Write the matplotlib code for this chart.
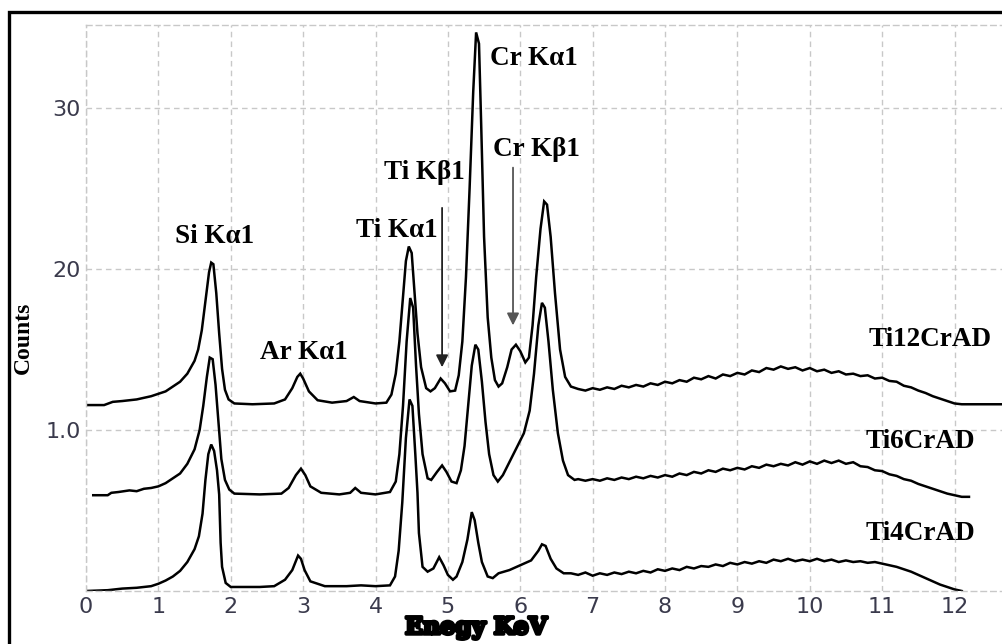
import matplotlib
matplotlib.use("Agg")
import matplotlib.pyplot as plt
from matplotlib.lines import Line2D
import matplotlib.patheffects as pe

# ---------------- data ----------------
ti12_energy = [0.0, 0.25, 0.37, 0.5, 0.6, 0.7, 0.8, 0.9, 1.0, 1.1, 1.2, 1.3, 1.4, 1.5, 1.55, 1.6, 1.65, 1.7, 1.73,
               1.76, 1.8, 1.84, 1.88, 1.92, 1.97, 2.05, 2.3, 2.6, 2.75, 2.85, 2.92, 2.96, 3.0, 3.08, 3.2, 3.4,
               3.6, 3.7, 3.78, 4.0, 4.15, 4.22, 4.28, 4.33, 4.38, 4.42, 4.46, 4.5, 4.54, 4.58, 4.63, 4.7, 4.76,
               4.82, 4.9, 4.96, 5.03, 5.1, 5.15, 5.2, 5.25, 5.3, 5.35, 5.39, 5.43, 5.46, 5.5, 5.55, 5.6, 5.65,
               5.7, 5.75, 5.82, 5.88, 5.94, 6.0, 6.07, 6.12, 6.17, 6.22, 6.28, 6.33, 6.37, 6.42, 6.48, 6.55,
               6.62, 6.7, 6.8, 6.9, 7.0, 7.1, 7.2, 7.3, 7.4, 7.5, 7.6, 7.7, 7.8, 7.9, 8.0, 8.1, 8.2, 8.3, 8.4,
               8.5, 8.6, 8.7, 8.8, 8.9, 9.0, 9.1, 9.2, 9.3, 9.4, 9.5, 9.6, 9.7, 9.8, 9.9, 10.0, 10.1, 10.2,
               10.3, 10.4, 10.5, 10.6, 10.7, 10.8, 10.9, 11.0, 11.1, 11.2, 11.3, 11.4, 11.5, 11.6, 11.7, 11.8,
               11.9, 12.0, 12.1, 12.67]
ti12_counts = [11.55, 11.55, 11.75, 11.8, 11.85, 11.9, 12.0, 12.1, 12.25, 12.4, 12.7, 13.0, 13.5, 14.3, 15.0,
               16.2, 18.0, 19.8, 20.4, 20.3, 18.5, 16.0, 13.8, 12.5, 11.9, 11.65, 11.6, 11.65, 11.9, 12.6,
               13.3, 13.5, 13.2, 12.4, 11.85, 11.7, 11.8, 12.05, 11.8, 11.65, 11.7, 12.2, 13.5, 15.5, 18.3,
               20.5, 21.4, 21.0, 18.5, 16.0, 13.9, 12.6, 12.4, 12.6, 13.2, 12.9, 12.4, 12.45, 13.4, 15.5,
               19.5, 25.0, 31.0, 34.7, 34.0, 29.0, 22.0, 17.0, 14.5, 13.1, 12.7, 12.9, 13.9, 15.0, 15.3,
               14.9, 14.2, 14.5, 16.5, 19.5, 22.5, 24.2, 24.0, 22.0, 18.5, 15.0, 13.3, 12.7, 12.55, 12.45,
               12.6, 12.5, 12.65, 12.55, 12.75, 12.65, 12.8, 12.7, 12.9, 12.8, 13.0, 12.9, 13.1, 13.0, 13.25,
               13.15, 13.35, 13.2, 13.45, 13.35, 13.55, 13.45, 13.7, 13.6, 13.85, 13.75, 13.95, 13.8, 13.9,
               13.7, 13.85, 13.65, 13.75, 13.55, 13.65, 13.45, 13.5, 13.35, 13.4, 13.2, 13.25, 13.05, 13.0,
               12.75, 12.65, 12.45, 12.3, 12.1, 11.95, 11.8, 11.65, 11.6, 11.6]

ti6_energy = [0.1, 0.3, 0.35, 0.45, 0.6, 0.7, 0.8, 0.9, 1.0, 1.1, 1.2, 1.3, 1.4, 1.5, 1.57, 1.62, 1.67, 1.71,
              1.75, 1.79, 1.83, 1.87, 1.92, 1.98, 2.05, 2.4, 2.7, 2.8, 2.9, 2.97, 3.03, 3.1, 3.25, 3.5, 3.65,
              3.72, 3.8, 4.0, 4.2, 4.28, 4.33, 4.38, 4.43, 4.48, 4.52, 4.56, 4.6, 4.65, 4.72, 4.77, 4.85, 4.92,
              4.98, 5.05, 5.12, 5.18, 5.23, 5.28, 5.33, 5.38, 5.42, 5.47, 5.52, 5.57, 5.63, 5.69, 5.76, 5.85,
              5.95, 6.05, 6.13, 6.19, 6.25, 6.3, 6.34, 6.39, 6.45, 6.52, 6.59, 6.66, 6.75, 6.8, 6.9, 7.0, 7.1,
              7.2, 7.3, 7.4, 7.5, 7.6, 7.7, 7.8, 7.9, 8.0, 8.1, 8.2, 8.3, 8.4, 8.5, 8.6, 8.7, 8.8, 8.9, 9.0,
              9.1, 9.2, 9.3, 9.4, 9.5, 9.6, 9.7, 9.8, 9.9, 10.0, 10.1, 10.2, 10.3, 10.4, 10.5, 10.6, 10.7,
              10.8, 10.9, 11.0, 11.1, 11.2, 11.3, 11.4, 11.5, 11.6, 11.7, 11.8, 11.9, 12.0, 12.1, 12.2]
ti6_counts = [5.95, 5.95, 6.1, 6.15, 6.25, 6.2, 6.35, 6.4, 6.5, 6.7, 7.0, 7.3, 7.9, 8.8, 10.0, 11.5, 13.3,
              14.5, 14.4, 12.8, 10.5, 8.2, 6.9, 6.3, 6.05, 6.0, 6.05, 6.4, 7.2, 7.6, 7.2, 6.5, 6.1, 6.0, 6.1,
              6.4, 6.1, 6.0, 6.15, 6.8, 8.5, 11.5, 15.5, 18.2, 17.6, 14.0, 11.0, 8.5, 7.0, 6.9, 7.4, 7.8, 7.4,
              6.8, 6.7, 7.5, 9.0, 11.5, 14.0, 15.3, 15.0, 13.0, 10.5, 8.5, 7.2, 6.8, 7.2, 8.0, 8.9, 9.8,
              11.2, 13.5, 16.5, 17.9, 17.6, 15.5, 12.5, 9.8, 8.1, 7.2, 6.9, 6.95, 6.85, 6.95, 6.85, 7.0, 6.9,
              7.05, 6.95, 7.1, 7.0, 7.15, 7.05, 7.2, 7.1, 7.3, 7.2, 7.4, 7.3, 7.5, 7.4, 7.6, 7.5, 7.65, 7.55,
              7.75, 7.65, 7.85, 7.75, 7.9, 7.8, 8.0, 7.85, 8.05, 7.9, 8.1, 7.95, 8.1, 7.9, 8.0, 7.75, 7.7,
              7.5, 7.45, 7.25, 7.15, 6.95, 6.85, 6.65, 6.5, 6.35, 6.2, 6.05, 5.95, 5.85, 5.85]

ti4_energy = [0.0, 0.3, 0.5, 0.7, 0.9, 1.0, 1.1, 1.2, 1.3, 1.4, 1.5, 1.56, 1.61, 1.65, 1.69, 1.73, 1.77, 1.81,
              1.84, 1.86, 1.88, 1.93, 2.0, 2.4, 2.6, 2.75, 2.85, 2.93, 2.97, 3.02, 3.1, 3.3, 3.6, 3.8, 4.0,
              4.2, 4.27, 4.32, 4.37, 4.42, 4.47, 4.51, 4.55, 4.58, 4.6, 4.65, 4.72, 4.8, 4.88, 4.94, 5.0, 5.07,
              5.12, 5.2, 5.27, 5.33, 5.37, 5.42, 5.47, 5.55, 5.62, 5.7, 5.85, 6.0, 6.15, 6.25, 6.3, 6.35, 6.42,
              6.5, 6.6, 6.7, 6.8, 6.9, 7.0, 7.1, 7.2, 7.3, 7.4, 7.5, 7.6, 7.7, 7.8, 7.9, 8.0, 8.1, 8.2, 8.3,
              8.4, 8.5, 8.6, 8.7, 8.8, 8.9, 9.0, 9.1, 9.2, 9.3, 9.4, 9.5, 9.6, 9.7, 9.8, 9.9, 10.0, 10.1,
              10.2, 10.3, 10.4, 10.5, 10.6, 10.7, 10.8, 10.9, 11.0, 11.1, 11.2, 11.3, 11.4, 11.5, 11.6, 11.7,
              11.8, 11.9, 12.0, 12.1]
ti4_counts = [0.0, 0.05, 0.15, 0.2, 0.3, 0.45, 0.65, 0.9, 1.25, 1.8, 2.6, 3.4, 4.8, 6.9, 8.5, 9.1, 8.7, 7.5,
              6.0, 3.0, 1.5, 0.5, 0.25, 0.25, 0.3, 0.7, 1.3, 2.2, 2.0, 1.3, 0.6, 0.3, 0.3, 0.35, 0.3, 0.35,
              0.9, 2.5, 5.5, 9.5, 11.9, 11.5, 8.5, 6.1, 3.6, 1.5, 1.2, 1.4, 2.1, 1.6, 1.0, 0.7, 0.9, 1.8, 3.2,
              4.9, 4.4, 3.0, 1.8, 0.9, 0.8, 1.1, 1.3, 1.6, 1.9, 2.5, 2.9, 2.8, 2.0, 1.4, 1.1, 1.1, 1.0, 1.15,
              0.95, 1.1, 1.0, 1.15, 1.05, 1.2, 1.1, 1.25, 1.15, 1.35, 1.25, 1.4, 1.3, 1.5, 1.4, 1.55, 1.5,
              1.65, 1.55, 1.75, 1.65, 1.8, 1.7, 1.85, 1.75, 1.95, 1.85, 2.0, 1.85, 1.95, 1.85, 2.0, 1.85,
              1.95, 1.8, 1.9, 1.8, 1.85, 1.75, 1.8, 1.7, 1.6, 1.5, 1.35, 1.2, 1.0, 0.8, 0.6, 0.4, 0.25, 0.1,
              0.0]

series_names = ["Ti12CrAD", "Ti6CrAD", "Ti4CrAD"]
x_ticks = [0, 1, 2, 3, 4, 5, 6, 7, 8, 9, 10, 11, 12]
x_tick_labels = ["0", "1", "2", "3", "4", "5", "6", "7", "8", "9", "10", "11", "12"]
y_ticks = [10, 20, 30]
y_tick_labels = ["1.0", "20", "30"]
peak_labels = ["Si K\u03b11", "Ar K\u03b11", "Ti K\u03b11", "Ti K\u03b21", "Cr K\u03b11", "Cr K\u03b21"]

# ---------------- figure ----------------
W, H = 1003, 644
fig = plt.figure(figsize=(W / 100, H / 100), dpi=100)
fig.patch.set_facecolor("white")

def fx(px):
    return px / W

def fy(py):
    return 1 - py / H

ax = fig.add_axes([fx(86), fy(591), fx(1003) - fx(86), fy(25) - fy(591)])
ax.set_xlim(0, 12.67)
ax.set_ylim(0, 35.16)

grid_col = "#c8c8c8"
ax.grid(True, color=grid_col, linestyle=(0, (4, 3)), linewidth=1.0)
ax.set_axisbelow(True)
for side in ["top", "left", "bottom"]:
    ax.spines[side].set_color(grid_col)
    ax.spines[side].set_linestyle((0, (4, 3)))
    ax.spines[side].set_linewidth(1.0)
ax.spines["right"].set_visible(False)

ax.set_xticks(x_ticks)
ax.set_xticklabels(x_tick_labels)
ax.set_yticks(y_ticks)
ax.set_yticklabels(y_tick_labels)
ax.tick_params(length=0, labelsize=16, colors="#3a3a4c", pad=4)
for lab in ax.get_xticklabels() + ax.get_yticklabels():
    lab.set_fontfamily("DejaVu Sans")

for e, c in [(ti12_energy, ti12_counts), (ti6_energy, ti6_counts), (ti4_energy, ti4_counts)]:
    ax.plot(e, c, color="black", linewidth=1.8, solid_joinstyle="miter")

serif = dict(fontfamily="Liberation Serif", fontweight="bold", color="black")

label_pos = [(1.77, 22.05), (3.01, 14.8), (4.30, 22.4), (4.68, 26.0), (6.19, 33.1), (6.23, 27.45)]
for txt, (x, y) in zip(peak_labels, label_pos):
    ax.text(x, y, txt, ha="center", va="center", fontsize=19.5, **serif)

name_pos = [(11.66, 15.65), (11.53, 9.3), (11.53, 3.55)]
for txt, (x, y) in zip(series_names, name_pos):
    ax.text(x, y, txt, ha="center", va="center", fontsize=19.5, **serif)

# arrows
ax.annotate("", xy=(4.92, 13.9), xytext=(4.92, 23.8),
            arrowprops=dict(arrowstyle="-|>", color="#222222", lw=1.3, mutation_scale=18,
                            shrinkA=0, shrinkB=0))
ax.annotate("", xy=(5.90, 16.5), xytext=(5.90, 26.3),
            arrowprops=dict(arrowstyle="-|>", color="#555555", lw=1.3, mutation_scale=18,
                            shrinkA=0, shrinkB=0))

# axis labels
fig.text(fx(476), fy(627), "Enegy KeV", ha="center", va="center", fontsize=17,
         fontfamily="DejaVu Serif", fontweight="bold",
         path_effects=[pe.withStroke(linewidth=2.5, foreground="black")])
fig.text(fx(23), fy(338), "Counts", ha="center", va="center", rotation=90, fontsize=17, **serif)

# outer frame
fig.add_artist(Line2D([fx(9), fx(9), 1.0], [0.0, fy(12), fy(12)], transform=fig.transFigure,
                      color="black", linewidth=2.4, solid_joinstyle="miter"))

fig.savefig("out.png", dpi=100, facecolor="white")
